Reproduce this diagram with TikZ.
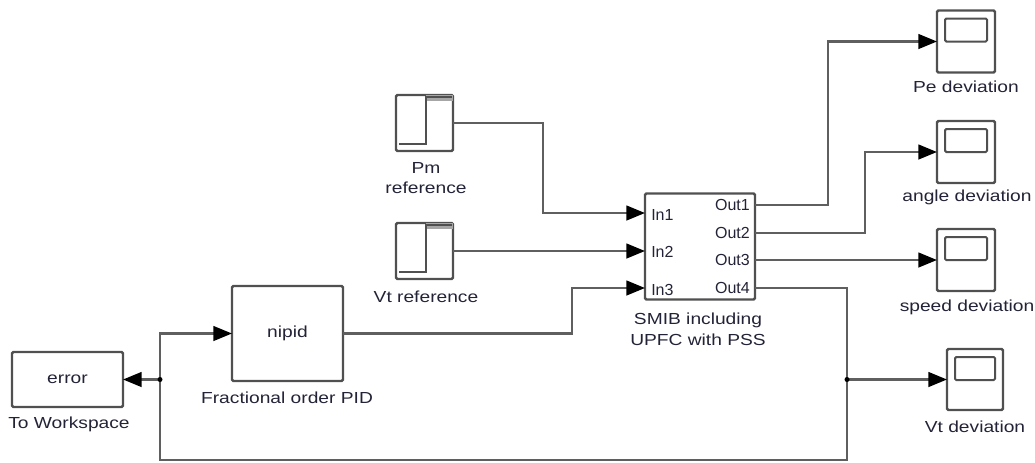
\documentclass[tikz,border=0pt]{standalone}
\usepackage{fontspec}
\setmainfont{Liberation Sans}
\newfontfamily\labfont{Liberation Sans}[FakeStretch=1.2]
\usetikzlibrary{arrows.meta,calc}
\definecolor{lncol}{RGB}{95,95,95}
\definecolor{bxcol}{RGB}{80,80,80}
\definecolor{txcol}{RGB}{35,35,55}
\begin{document}
\begin{tikzpicture}[x=0.75pt,y=-0.75pt,
  wh/.style 2 args={minimum width=#1*0.75pt,minimum height=#2*0.75pt},
  blk/.style={draw=bxcol,line width=1.8pt,rounded corners=1pt,inner sep=0pt,outer sep=0pt,fill=white,
     font=\labfont\fontsize{12}{14}\selectfont,text=txcol},
  lab/.style={font=\labfont\fontsize{12}{14}\selectfont,text=txcol,inner sep=0pt,align=center},
  port/.style={font=\fontsize{12}{14}\selectfont,text=txcol,inner sep=0pt},
  conn/.style={draw=lncol,line width=1.8pt},
  arr/.style={conn,-{Triangle[length=14pt,width=11pt,fill=black,color=black]}},
  inbox/.style={draw=bxcol,line width=1.5pt,rounded corners=1pt}]
\useasboundingbox (0,0) rectangle (1035,462);

% ---- step sources
\node[blk,wh={57}{56}] (pm) at (424.5,123) {};
\node[blk,wh={57}{56}] (vtr) at (424.5,251) {};
\foreach \s in {pm,vtr}{
  \fill[gray!70] ([shift={(30,0)}]\s.north west) rectangle ([shift={(0,6)}]\s.north east);
  \draw[inbox,rounded corners=0pt] ([shift={(3,-7)}]\s.south west) -- ([shift={(30,-7)}]\s.south west)
     -- ([shift={(30,2)}]\s.north west) -- ([shift={(-1,2)}]\s.north east);
}
\node[lab] (pmlab) at (426,178) {Pm\\[1pt]reference};
\node[lab] (vtrlab) at (426,297) {Vt reference};

% ---- SMIB block
\node[blk,wh={110}{106}] (smib) at (700,246.5) {};
\coordinate (in1) at (645,213);
\coordinate (in2) at (645,251);
\coordinate (in3) at (645,288);
\coordinate (out1) at (755,205);
\coordinate (out2) at (755,233);
\coordinate (out3) at (755,260);
\coordinate (out4) at (755,288);
\node[port,anchor=west] (pin1) at (651,215) {In1};
\node[port,anchor=west] (pin2) at (651,252) {In2};
\node[port,anchor=west] (pin3) at (651,290) {In3};
\node[port,anchor=east] (pout1) at (750,205) {Out1};
\node[port,anchor=east] (pout2) at (750,233) {Out2};
\node[port,anchor=east] (pout3) at (750,260) {Out3};
\node[port,anchor=east] (pout4) at (750,288) {Out4};
\node[lab] (smiblab) at (698,329) {SMIB including\\[2pt]UPFC with PSS};

% ---- nipid and error
\node[blk,wh={111}{95}] (nipid) at (287.5,333.5) {nipid};
\node[lab] (nipidlab) at (287,398) {Fractional order PID};
\node[blk,wh={111}{55}] (err) at (67.5,379.5) {error};
\node[lab] (errlab) at (69,424) {To Workspace};

% ---- scopes
\node[blk,wh={58}{62}] (pe) at (966,41.5) {};
\node[blk,wh={58}{62}] (ang) at (966,152) {};
\node[blk,wh={58}{62}] (spd) at (966,260) {};
\node[blk,wh={56}{61}] (vtd) at (975,379.5) {};
\foreach \s in {pe,ang,spd,vtd}{
  \draw[inbox] ([shift={(8,8)}]\s.north west) rectangle ([shift={(-8,31)}]\s.north east);
}
\node[lab] (pelab) at (966,87) {Pe deviation};
\node[lab] (anglab) at (967,197) {angle deviation};
\node[lab] (spdlab) at (967,307) {speed deviation};
\node[lab] (vtdlab) at (975,427) {Vt deviation};

% ---- connectors
\coordinate (b1) at (160,379.5);
\coordinate (b2) at (847,379.5);
\draw[arr] (pm.east) -- (543,123) |- (in1);
\draw[arr] (vtr.east) -- (in2);
\draw[arr] (nipid.east) -- (572,333.5) |- (in3);
\draw[arr] (out1) -- (828,205) |- (pe.west);
\draw[arr] (out2) -- (865,233) |- (ang.west);
\draw[arr] (out3) -- (spd.west);
\draw[conn] (out4) -- (847,288) -- (847,460) -- (160,460) -- (b1);
\draw[arr] (b1) |- (nipid.west);
\draw[arr] (b1) -- (err.east);
\draw[arr] (b2) -- (vtd.west);
\fill[black] (b1) circle (2.5);
\fill[black] (b2) circle (2.5);
\end{tikzpicture}
\end{document}
